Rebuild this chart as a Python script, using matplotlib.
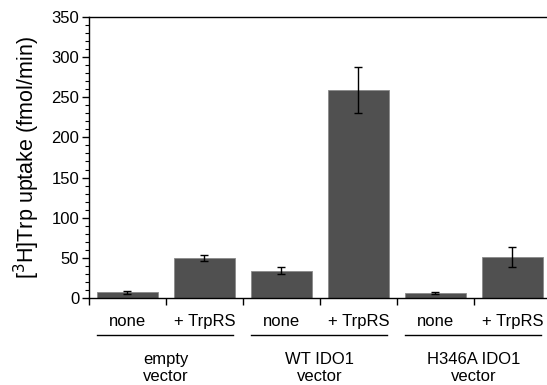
import matplotlib
matplotlib.use("Agg")
import matplotlib.pyplot as plt
from matplotlib.ticker import MultipleLocator

plt.rcParams['font.family'] = ['Liberation Sans', 'DejaVu Sans']

# data
treatments = ["none", "+ TrpRS", "none", "+ TrpRS", "none", "+ TrpRS"]
groups = ["empty\nvector", "WT IDO1\nvector", "H346A IDO1\nvector"]
uptake = [7, 50, 34, 259, 6, 51]
errors = [1.5, 4, 4, 29, 1, 12]

fig = plt.figure(figsize=(5.47, 3.85), dpi=100)
ax = fig.add_axes([0.1627, 0.226, 0.8373, 0.730])

x = list(range(len(uptake)))
ax.bar(x, uptake, width=0.8, color='#505050', edgecolor='#8a8a8a', linewidth=0.6,
       yerr=errors, capsize=3, error_kw=dict(elinewidth=1, capthick=1, ecolor='black'),
       zorder=2)

ax.set_xlim(-0.5, 5.45)
ax.set_ylim(0, 350)
ax.yaxis.set_major_locator(MultipleLocator(50))
ax.yaxis.set_minor_locator(MultipleLocator(10))
ax.tick_params(axis='y', which='major', length=5, width=1, labelsize=12, direction='out',
               pad=2)
ax.tick_params(axis='y', which='minor', length=3, width=0.8, direction='out')
ax.set_xticks([i - 0.5 for i in range(6)])
ax.set_xticklabels([])
ax.tick_params(axis='x', which='major', length=5, width=1, direction='out')
ax.spines['right'].set_visible(False)
for s in ['left', 'top', 'bottom']:
    ax.spines[s].set_linewidth(1)
ax.set_ylabel('[$^{3}$H]Trp uptake (fmol/min)', fontsize=15.5, labelpad=7)

# category labels under the bars
for i, t in enumerate(treatments):
    ax.text(i, -29, t, ha='center', va='center', fontsize=12, clip_on=False)

# group lines and labels
for g, name in enumerate(groups):
    a, b = 2 * g, 2 * g + 1
    ax.plot([a - 0.4, b + 0.37], [-46.5, -46.5], color='black', linewidth=1, clip_on=False)
    ax.text((a + b) / 2, -87, name, ha='center', va='center', fontsize=12,
            linespacing=1.15, clip_on=False)

fig.savefig('out.png', dpi=100)
